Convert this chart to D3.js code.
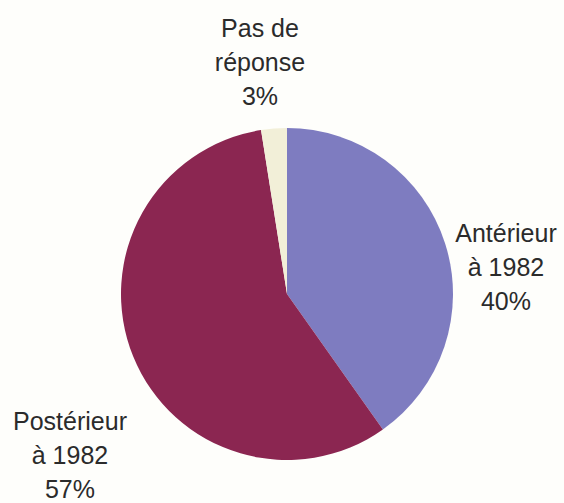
<!DOCTYPE html>
<html lang="fr">
<head>
    <meta charset="UTF-8">
    <title>Pie</title>
    <script src="https://cdnjs.cloudflare.com/ajax/libs/d3/7.8.5/d3.min.js"></script>
    <style>
        html, body {
            margin: 0;
            padding: 0;
            background-color: #fefefb;
        }

        text {
            font-family: "Liberation Sans", Arial, sans-serif;
            font-size: 25px;
            fill: #2b2b2b;
        }
    </style>
</head>
<body>
<div id="chart"></div>
<script>
    // data
    const categories = ['Antérieur à 1982', 'Postérieur à 1982', 'Pas de réponse'];
    const values = [40.2, 57.3, 2.5];
    const labelLines = [['Antérieur', 'à 1982'], ['Postérieur', 'à 1982'], ['Pas de', 'réponse']];
    const colors = ['#7e7cc0', '#8b2651', '#f2efd8'];

    const width = 564;
    const height = 503;
    const cx = 287;
    const cy = 294;
    const radius = 166;
    const lineGap = 34;

    // where each label block sits (centre x, first baseline y)
    const labelPos = [[506, 242], [70, 430], [260, 37]];

    const svg = d3.select('#chart')
        .append('svg')
        .attr('width', width)
        .attr('height', height);

    const total = d3.sum(values);
    const pie = d3.pie().sort(null).value(d => d);
    const arc = d3.arc().innerRadius(0).outerRadius(radius);

    const g = svg.append('g').attr('transform', `translate(${cx}, ${cy})`);

    g.selectAll('path')
        .data(pie(values))
        .enter()
        .append('path')
        .attr('d', arc)
        .attr('fill', (_, i) => colors[i]);

    const labels = svg.selectAll('text.label')
        .data(categories)
        .enter()
        .append('text')
        .attr('class', 'label')
        .attr('text-anchor', 'middle')
        .attr('x', (_, i) => labelPos[i][0])
        .attr('y', (_, i) => labelPos[i][1]);

    labels.each(function (_, i) {
        const lines = labelLines[i].concat([Math.round(values[i] / total * 100) + '%']);
        d3.select(this).selectAll('tspan')
            .data(lines)
            .enter()
            .append('tspan')
            .attr('x', labelPos[i][0])
            .attr('dy', (_, j) => j === 0 ? 0 : lineGap)
            .text(d => d);
    });
</script>
</body>
</html>
